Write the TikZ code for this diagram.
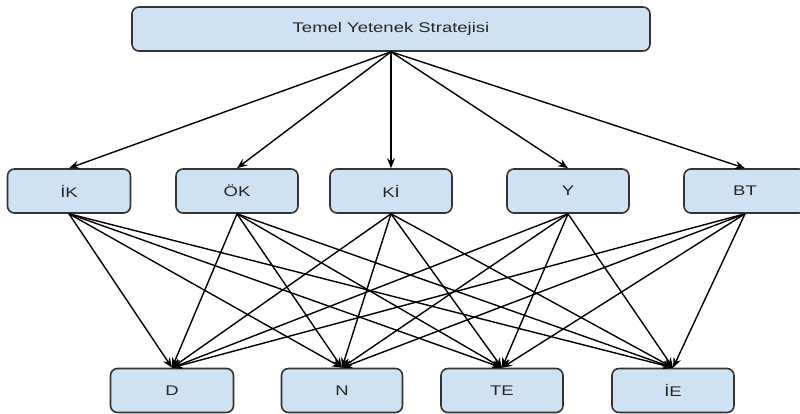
\documentclass[tikz,border=0pt]{standalone}
\usepackage{fontspec}
\setmainfont{Liberation Sans}
\usetikzlibrary{arrows.meta}
\definecolor{boxfill}{HTML}{CFE2F3}
\definecolor{boxline}{HTML}{333333}
\newcommand{\wtxt}[1]{\scalebox{1.32}[1]{#1}}
\tikzset{
  box/.style={draw=boxline, fill=boxfill, line width=1.6pt, rounded corners=7pt,
    minimum height=44pt, inner sep=0pt, text=black!85, font=\fontsize{14}{16}\selectfont},
  conn/.style={draw=black, line width=1.4pt, -{Stealth[length=10pt,width=8pt]}}
}
\begin{document}
\begin{tikzpicture}[x=1pt,y=-1pt]
\useasboundingbox (0,0) rectangle (800,413);
\node[box, minimum width=518pt] (top) at (391,29) {\wtxt{Temel Yetenek Stratejisi}};
\node[box, minimum width=123pt] (ik) at (69,191) {\wtxt{İK}};
\node[box, minimum width=122pt] (ok) at (237,191) {\wtxt{ÖK}};
\node[box, minimum width=122pt] (ki) at (391,191) {\wtxt{Kİ}};
\node[box, minimum width=122pt] (y) at (568,191) {\wtxt{Y}};
\node[box, minimum width=122pt] (bt) at (745,191) {\wtxt{BT}};
\node[box, minimum width=123pt] (d) at (172,390.5) {\wtxt{D}};
\node[box, minimum width=121pt] (n) at (342,390.5) {\wtxt{N}};
\node[box, minimum width=122pt] (te) at (502,390.5) {\wtxt{TE}};
\node[box, minimum width=122pt] (ie) at (673,390.5) {\wtxt{İE}};
\foreach \m in {ik,ok,ki,y,bt}{
  \draw[conn] (top.south) -- (\m.north);
}
\foreach \m in {ik,ok,ki,y,bt}{
  \foreach \b in {d,n,te,ie}{
    \draw[conn] (\m.south) -- (\b.north);
  }
}
\end{tikzpicture}
\end{document}
